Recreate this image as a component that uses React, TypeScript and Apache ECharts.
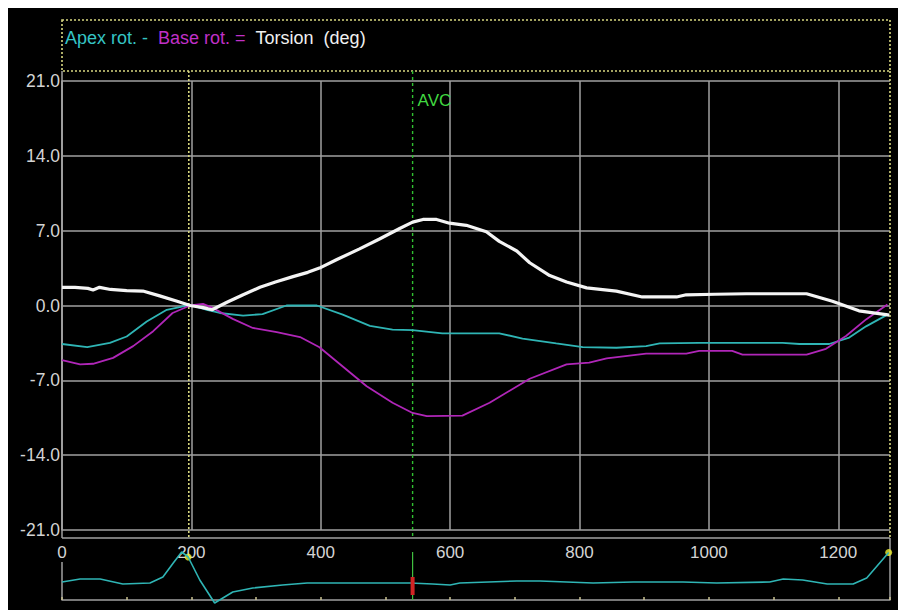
import React, { useEffect, useRef } from "react";
import * as echarts from "echarts";

// ---- data ----
const torsionT = [0, 20, 40, 48, 58, 75, 100, 125, 151, 178, 198, 218, 232, 255, 280, 306, 330, 357, 380, 398, 425, 460, 490, 522, 542, 558, 579, 599, 625, 656, 676, 703, 723, 754, 780, 811, 857, 897, 950, 965, 1010, 1058, 1110, 1151, 1191, 1232, 1274, 1279];
const torsionV = [1.7, 1.7, 1.6, 1.45, 1.7, 1.5, 1.4, 1.35, 0.9, 0.4, 0.0, -0.2, -0.4, 0.3, 1.0, 1.7, 2.2, 2.7, 3.1, 3.5, 4.3, 5.3, 6.2, 7.2, 7.8, 8.05, 8.05, 7.7, 7.5, 6.9, 6.0, 5.1, 4.0, 2.8, 2.2, 1.65, 1.35, 0.8, 0.8, 1.0, 1.05, 1.1, 1.1, 1.1, 0.4, -0.5, -0.85, -0.9];

const apexT = [0, 39, 74, 100, 131, 162, 198, 224, 244, 280, 310, 347, 394, 434, 476, 511, 542, 588, 676, 712, 764, 805, 857, 903, 924, 985, 1114, 1140, 1186, 1217, 1243, 1276];
const apexV = [-3.6, -3.9, -3.5, -2.9, -1.5, -0.4, 0.05, -0.4, -0.7, -0.95, -0.8, 0, 0, -0.85, -1.9, -2.25, -2.3, -2.6, -2.6, -3.1, -3.55, -3.9, -3.95, -3.8, -3.55, -3.5, -3.5, -3.6, -3.6, -3.0, -1.95, -0.85];

const baseT = [0, 28, 48, 79, 110, 141, 171, 198, 218, 232, 264, 295, 332, 368, 398, 434, 471, 511, 542, 564, 619, 661, 723, 780, 815, 842, 903, 965, 985, 1036, 1052, 1151, 1181, 1212, 1243, 1276];
const baseV = [-5.1, -5.5, -5.45, -4.9, -3.8, -2.4, -0.7, 0, 0.15, -0.2, -1.25, -2.1, -2.5, -2.95, -3.9, -5.7, -7.55, -9.1, -10.05, -10.35, -10.3, -9.1, -6.85, -5.5, -5.35, -4.95, -4.5, -4.5, -4.25, -4.25, -4.6, -4.6, -4.05, -2.85, -1.3, 0.1];

const ecgT = [0, 28, 59, 94, 136, 156, 172, 185, 195, 213, 236, 264, 295, 341, 379, 471, 538, 573, 600, 615, 703, 739, 821, 883, 960, 1012, 1094, 1115, 1145, 1183, 1223, 1244, 1264, 1278];
const ecgV = [1.8, 2.1, 2.1, 1.6, 1.7, 2.3, 3.7, 4.8, 4.3, 2.0, -0.3, 0.8, 1.2, 1.5, 1.7, 1.7, 1.7, 1.6, 1.5, 1.7, 1.9, 1.9, 1.7, 1.8, 1.8, 1.7, 1.8, 2.1, 2.0, 1.6, 1.6, 2.2, 3.7, 4.75];

const ecgMarkT = [195, 1278];
const ecgMarkV = [4.3, 4.75];

const markTime = 196; // yellow dotted cursor
const avcTime = 542; // aortic valve closure
const avcLabel = "AVC";
const avcRedRange = [0.5, 2.3];
const avcGreenRange = [0, 4.8];

const xMax = 1280;
const yMin = -21;
const yMax = 21;
const yStep = 7;
const xStep = 200;

const FONT = "'Liberation Sans', Arial, sans-serif";
const GRID = "#a0a0a0";
const DOT = "#d8d880";
const CYAN = "#2fb5b5";
const MAGENTA = "#b026b8";

const pairs = (t: number[], v: number[]) => t.map((x, i) => [x, v[i]]);

export default function App() {
  const ref = useRef<HTMLDivElement>(null);
  useEffect(() => {
    document.documentElement.style.overflow = "hidden";
    document.body.style.overflow = "hidden";
    const chart = echarts.init(ref.current!, null, { renderer: "svg" });
    chart.setOption({
      animation: false,
      backgroundColor: "#000",
      grid: [
        { left: 54, right: 16, top: 73, bottom: 80 },
        { left: 54, right: 16, top: 542, height: 55 },
      ],
      xAxis: [
        {
          type: "value", gridIndex: 0, min: 0, max: xMax, interval: xStep,
          axisLine: { show: false, onZero: false },
          axisTick: { show: false },
          axisLabel: {
            color: "#d4d4d4", fontSize: 17, fontFamily: FONT, margin: 14,
            formatter: (v: number) => (v % xStep === 0 ? String(v) : ""),
          },
          splitLine: { show: true, showMaxLine: false, lineStyle: { color: GRID, width: 1.5 } },
        },
        {
          type: "value", gridIndex: 1, min: 0, max: xMax, interval: 100,
          axisLine: { show: true, onZero: true, lineStyle: { color: GRID, width: 1.5 } },
          axisTick: { show: true, inside: true, length: 3, lineStyle: { color: "#c8c090", width: 1.5 } },
          axisLabel: { show: false },
          splitLine: { show: false },
        },
      ],
      yAxis: [
        {
          type: "value", gridIndex: 0, min: yMin, max: yMax, interval: yStep,
          axisLine: { show: true, lineStyle: { color: GRID, width: 1.5 } },
          axisTick: { show: false },
          axisLabel: {
            color: "#d4d4d4", fontSize: 17.5, fontFamily: FONT, margin: 2,
            formatter: (v: number) => v.toFixed(1),
          },
          splitLine: { show: true, lineStyle: { color: GRID, width: 1.5 } },
        },
        {
          type: "value", gridIndex: 1, min: -0.5, max: 5,
          axisLine: { show: false }, axisTick: { show: false },
          axisLabel: { show: false }, splitLine: { show: false },
        },
      ],
      series: [
        {
          name: "Apex rot.", type: "line", xAxisIndex: 0, yAxisIndex: 0,
          data: pairs(apexT, apexV), symbol: "none",
          lineStyle: { color: CYAN, width: 1.8 },
        },
        {
          name: "Base rot.", type: "line", xAxisIndex: 0, yAxisIndex: 0,
          data: pairs(baseT, baseV), symbol: "none",
          lineStyle: { color: MAGENTA, width: 1.8 },
        },
        {
          name: "Torsion", type: "line", xAxisIndex: 0, yAxisIndex: 0,
          data: pairs(torsionT, torsionV), symbol: "none",
          lineStyle: { color: "#f4f4f4", width: 3.2 },
        },
        {
          name: "AVC green", type: "line", xAxisIndex: 1, yAxisIndex: 1,
          data: avcGreenRange.map((v) => [avcTime, v]), symbol: "none",
          lineStyle: { color: "#40c040", width: 1.2 }, clip: false,
        },
        {
          name: "ECG", type: "line", xAxisIndex: 1, yAxisIndex: 1,
          data: pairs(ecgT, ecgV), symbol: "none", clip: false,
          lineStyle: { color: CYAN, width: 1.6 },
        },
        {
          name: "AVC red", type: "line", xAxisIndex: 1, yAxisIndex: 1,
          data: avcRedRange.map((v) => [avcTime, v]), symbol: "none",
          lineStyle: { color: "#d02424", width: 4 }, clip: false,
        },
        {
          name: "Markers", type: "scatter", xAxisIndex: 1, yAxisIndex: 1,
          data: pairs(ecgMarkT, ecgMarkV), symbolSize: 7, clip: false,
          itemStyle: { color: "#f0f030" },
        },
      ],
    });

    const xOf = (t: number) => (chart.convertToPixel({ gridIndex: 0 }, [t, 0]) as number[])[0];
    const left = xOf(0);
    const right = xOf(xMax);
    const boxTop = 63;
    const boxBottom = 530;
    const mx = xOf(markTime);
    const ax = xOf(avcTime);
    const stripTop = (chart.convertToPixel({ gridIndex: 1 }, [0, 0]) as number[])[1];

    chart.setOption({
      graphic: [
        {
          type: "rect", silent: true,
          shape: { x: left, y: 12, width: right - left, height: boxTop - 12 },
          style: { fill: "none", stroke: DOT, lineWidth: 1.6, lineDash: [2, 2] },
        },
        {
          type: "line", silent: true,
          shape: { x1: right, y1: boxTop, x2: right, y2: boxBottom },
          style: { stroke: DOT, lineWidth: 1.6, lineDash: [2, 2] },
        },
        {
          type: "line", silent: true,
          shape: { x1: left, y1: boxTop, x2: left, y2: boxBottom },
          style: { stroke: GRID, lineWidth: 1.5 },
        },
        {
          type: "line", silent: true,
          shape: { x1: left, y1: boxBottom, x2: right, y2: boxBottom },
          style: { stroke: GRID, lineWidth: 1.5 },
        },
        {
          type: "line", silent: true,
          shape: { x1: left, y1: stripTop - 38, x2: left, y2: stripTop },
          style: { stroke: GRID, lineWidth: 1.5 },
        },
        {
          type: "line", silent: true,
          shape: { x1: right, y1: boxBottom, x2: right, y2: stripTop },
          style: { stroke: GRID, lineWidth: 1.5 },
        },
        {
          type: "line", silent: true,
          shape: { x1: mx, y1: boxTop, x2: mx, y2: boxBottom },
          style: { stroke: DOT, lineWidth: 1.6, lineDash: [2, 2] },
        },
        {
          type: "line", silent: true,
          shape: { x1: ax, y1: boxTop, x2: ax, y2: boxBottom },
          style: { stroke: "#30c030", lineWidth: 1.4, lineDash: [3, 3] },
        },
        {
          type: "text", silent: true, x: ax + 5, y: 92,
          style: {
            text: avcLabel, fill: "#40d840", fontSize: 17, fontFamily: FONT,
            verticalAlign: "middle", align: "left",
          },
        },
        {
          type: "text", silent: true, x: left + 3, y: 30,
          style: {
            text: "{a|Apex rot. -}  {b|Base rot. =}  {c|Torsion  (deg)}",
            fontSize: 18, fontFamily: FONT, verticalAlign: "middle", align: "left",
            rich: {
              a: { fill: "#35c4c4", fontSize: 18, fontFamily: FONT },
              b: { fill: "#c030c8", fontSize: 18, fontFamily: FONT },
              c: { fill: "#f0f0f0", fontSize: 18, fontFamily: FONT },
            },
          },
        },
      ],
    });
    return () => chart.dispose();
  }, []);
  return <div ref={ref} style={{ width: 898, height: 602, background: "#000" }} />;
}
